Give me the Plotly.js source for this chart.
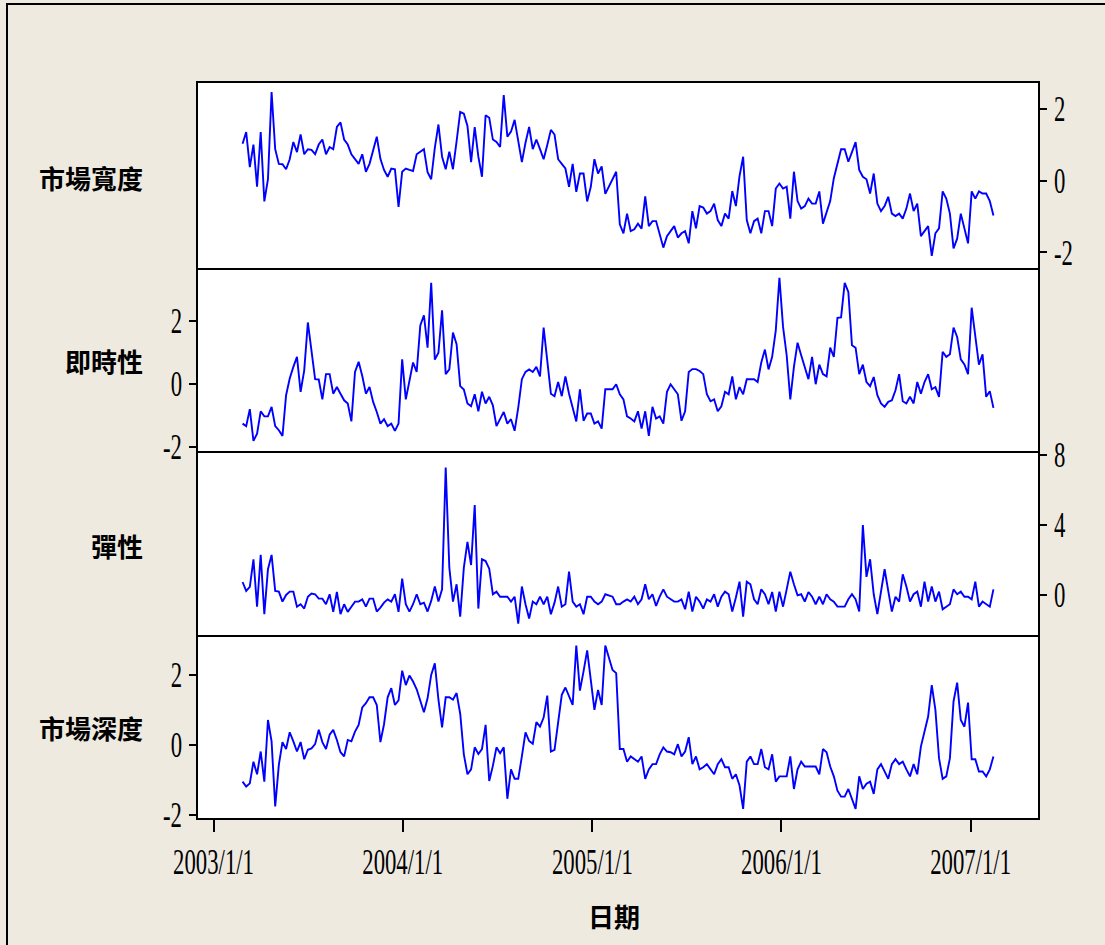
<!DOCTYPE html>
<html>
<head>
<meta charset="utf-8">
<script src="https://cdn.plot.ly/plotly-3.0.1.min.js"></script>
<style>
html,body{margin:0;padding:0;background:#EEEAE0;}
#chart{width:1105px;height:945px;}
</style>
</head>
<body>
<div id="chart"></div>
<script>
// ---------------- data ----------------
const startDate = [2003, 1, 26]; // 2003-02-26, weekly observations
const seriesNames = ['市場寬度', '即時性', '彈性', '市場深度'];
const xTitle = '日期';

const breadth = [
1.03,1.36,0.38,1.01,-0.17,1.36,-0.58,0.04,2.48,0.88,
0.47,0.46,0.32,0.60,1.08,0.80,1.29,0.74,0.88,0.86,
0.74,1.01,1.15,0.74,0.94,0.88,1.50,1.63,1.15,1.01,
0.74,0.61,0.47,0.74,0.25,0.47,0.83,1.23,0.61,0.30,
0.11,0.34,0.32,-0.73,0.25,0.34,0.30,0.27,0.74,0.81,
0.88,0.24,0.04,0.92,1.57,0.67,0.32,0.81,0.32,1.10,
1.92,1.87,1.53,0.52,1.50,0.67,0.11,1.83,1.76,1.15,
1.08,0.94,2.39,1.23,1.37,1.70,1.10,0.52,1.06,1.50,
0.88,1.15,0.88,0.60,1.00,1.42,1.29,0.60,0.47,0.34,
-0.17,0.47,-0.31,0.20,0.20,-0.58,-0.17,0.60,0.20,0.40,
-0.37,-0.17,0.04,0.25,
-1.22,-1.47,-0.92,-1.41,-1.36,-1.20,-1.34,-0.44,-1.27,-1.13,
-1.13,-1.50,-1.87,-1.55,-1.41,-1.27,-1.59,-1.47,-1.41,-1.75,
-0.85,-1.33,-0.71,-0.75,-0.92,-0.85,-0.64,-1.10,-1.27,-0.92,
-1.06,-0.29,-0.71,0.13,0.67,-1.10,-1.47,-1.13,-1.06,-1.47,
-0.85,-0.85,-1.27,-0.22,-0.08,-0.22,-0.17,-1.06,0.25,-0.57,
-0.78,-0.71,-0.50,-0.64,-0.64,-0.30,-1.20,-0.89,-0.57,0.07,
0.46,0.88,0.88,0.53,0.80,1.08,0.30,0.11,0.04,-0.36,
0.20,-0.64,-0.85,-0.71,-0.45,-0.92,-0.99,-0.92,-1.06,-0.78,
-0.36,-0.85,-0.64,-1.55,-1.41,-1.27,-2.10,-1.47,-1.33,-0.30,
-0.50,-0.92,-1.89,-1.62,-0.92,-1.34,-1.75,-0.30,-0.50,-0.30,
-0.36,-0.36,-0.57,-0.97
];

const immediacy = [
-1.26,-1.34,-0.80,-1.81,-1.58,-0.87,-1.03,-1.03,-0.73,-1.34,
-1.47,-1.65,-0.36,0.17,0.54,0.86,-0.25,0.43,1.95,1.07,
0.15,0.14,-0.49,0.31,0.31,-0.31,-0.10,-0.31,-0.52,-0.62,
-1.19,0.38,0.70,0.25,-0.31,-0.10,-0.57,-0.89,-1.26,-1.12,
-1.34,-1.26,-1.49,-1.26,0.78,-0.49,0.12,0.68,0.38,1.86,
2.18,1.15,3.21,0.77,0.99,2.34,0.31,0.46,1.63,1.26,
-0.07,-0.18,-0.62,-0.71,-0.33,-0.87,-0.25,-0.62,-0.41,-0.68,
-1.34,-1.12,-0.89,-1.26,-1.12,-1.49,-0.75,0.15,0.38,0.46,
0.38,0.54,0.24,1.79,0.75,-0.31,-0.39,0.06,-0.39,0.24,
-0.31,-0.80,-1.19,-0.17,-1.17,-0.94,-0.94,-1.26,-1.19,-1.42,
-0.17,-0.17,-0.17,-0.01,
-0.33,-0.49,-1.03,-1.10,-1.19,-0.87,-1.42,-0.87,-1.65,-0.73,
-1.10,-1.03,-1.26,-0.25,-0.01,-0.17,-0.33,-1.17,-0.87,0.38,
0.47,0.47,0.41,0.31,-0.33,-0.55,-0.49,-0.87,-0.71,-0.25,
-0.33,0.24,-0.49,-0.10,-0.33,0.15,0.15,0.15,0.06,0.68,
1.09,0.46,0.86,1.70,3.37,1.81,0.91,-0.49,0.54,1.31,
0.91,0.54,0.15,0.86,-0.01,0.61,0.31,0.24,1.15,0.86,
2.10,2.11,3.21,2.92,1.23,1.15,0.31,0.61,0.06,-0.07,
0.22,-0.36,-0.62,-0.73,-0.57,-0.52,-0.20,0.31,-0.55,-0.62,
-0.41,-0.62,0.06,-0.31,0.06,0.31,-0.17,-0.10,-0.41,1.02,
0.86,0.94,1.79,1.49,0.78,0.62,0.31,2.42,1.54,0.61,
0.94,-0.41,-0.23,-0.76
];

const elasticity = [
0.74,0.23,0.46,2.04,-0.67,2.29,-1.10,1.47,2.29,0.23,
0.19,-0.38,0.00,0.19,0.19,-0.67,-0.53,-0.78,-0.10,0.08,
0.04,-0.21,-0.21,-0.53,0.04,-0.97,0.17,-1.10,-0.53,-0.97,
-0.67,-0.38,-0.38,-0.25,-0.67,-0.21,-0.21,-0.95,-0.72,-0.44,
-0.25,-0.38,0.04,-0.97,0.93,-0.53,-0.95,-0.53,0.04,-0.53,
-0.44,-0.95,-0.34,0.48,-0.38,0.32,7.28,1.56,-0.38,0.61,
-1.24,1.56,3.03,1.71,5.14,-0.78,2.04,1.94,1.50,0.04,
0.19,-0.10,-0.10,-0.10,-0.38,-0.10,-1.64,0.48,-0.53,-1.35,
-0.38,-0.53,-0.10,-0.53,-0.10,-1.10,-0.44,0.48,-0.67,-0.53,
1.33,-0.38,-0.67,-0.53,-1.10,-0.10,-0.10,-0.38,-0.53,-0.38,
0.04,-0.02,-0.10,-0.53,
-0.53,-0.38,-0.25,-0.38,-0.10,-0.53,-0.25,0.61,-0.25,0.04,
-0.63,-0.10,0.32,-0.10,-0.25,-0.38,-0.38,-0.25,-0.82,0.19,
-0.95,-0.10,-0.38,-0.78,-0.25,-0.38,0.04,-0.67,-0.10,0.19,
0.04,-0.95,-0.15,0.76,-1.24,0.76,0.61,-0.25,-0.53,0.32,
0.04,-0.53,0.17,-0.95,0.19,-0.67,0.32,1.33,0.61,-0.02,
0.04,-0.38,0.17,-0.10,-0.53,-0.10,-0.53,0.04,-0.25,-0.38,
-0.67,-0.67,-0.67,-0.25,0.04,-0.25,-0.95,4.00,1.03,2.04,
0.04,-1.10,0.32,1.47,0.23,-0.95,-0.10,-0.38,1.18,0.48,
-0.38,0.04,0.19,-0.67,0.76,-0.38,0.48,-0.38,0.19,-0.82,
-0.67,-0.53,0.32,0.04,0.19,-0.10,-0.10,-0.25,0.76,-0.67,
-0.38,-0.53,-0.67,0.32
];

const depth = [
-1.05,-1.19,-1.10,-0.48,-0.84,-0.19,-1.05,0.71,0.10,-1.76,
-0.57,0.08,-0.12,0.36,0.10,-0.19,0.08,-0.41,-0.14,-0.10,
0.02,0.43,0.08,-0.12,0.29,0.43,0.14,-0.21,-0.33,0.14,
0.10,0.38,0.57,1.07,1.19,1.36,1.36,1.14,0.08,0.59,
1.36,1.62,1.14,1.27,2.12,1.71,1.98,1.81,1.59,1.29,
0.93,1.33,2.00,2.33,1.29,0.50,1.36,1.36,1.29,1.48,
0.89,-0.27,-0.84,-0.70,-0.07,-0.26,-0.12,0.57,-1.03,-0.60,
-0.07,-0.24,-0.07,-1.54,-0.70,-0.97,-0.97,-0.33,0.36,0.11,
0.03,0.65,0.52,0.78,1.41,-0.19,-0.14,0.64,1.43,1.64,
1.36,1.14,2.84,1.55,2.10,2.70,1.86,1.00,1.57,1.14,
2.84,2.48,2.14,2.05,
-0.12,-0.12,-0.48,-0.33,-0.40,-0.48,-0.33,-0.97,-0.70,-0.55,
-0.55,-0.27,-0.07,-0.19,-0.21,-0.27,0.02,-0.33,-0.19,0.22,
-0.55,-0.33,-0.70,-0.64,-0.55,-0.70,-0.84,-0.55,-0.41,-0.64,
-0.64,-0.97,-0.84,-1.16,-1.83,-0.48,-0.33,-0.55,-0.55,-0.12,
-0.64,-0.70,-0.27,-1.05,-0.90,-0.90,-0.90,-0.33,-1.26,-0.70,
-0.48,-0.62,-0.62,-0.62,-0.62,-0.84,-0.12,-0.21,-0.62,-0.90,
-1.31,-1.48,-1.48,-1.26,-1.54,-1.83,-0.90,-1.26,-1.11,-1.05,
-1.40,-0.70,-0.55,-0.76,-0.97,-0.55,-0.41,-0.55,-0.48,-0.70,
-0.90,-0.55,-0.84,-0.05,0.38,0.81,1.71,1.00,-0.38,-0.97,
-0.90,-0.38,1.24,1.78,0.71,0.52,1.21,-0.41,-0.41,-0.76,
-0.76,-0.90,-0.70,-0.33
];

const xTickVals = ['2003-01-01','2004-01-01','2005-01-01','2006-01-01','2007-01-01'];
const xTickText = ['2003/1/1','2004/1/1','2005/1/1','2006/1/1','2007/1/1'];
const yTickVals = [[-2,0,2],[-2,0,2],[0,4,8],[-2,0,2]];
const yTickText = [['-2','0','2'],['-2','0','2'],['0','4','8'],['-2','0','2']];

// ---------------- build ----------------
function weeklyDates(n){
  const t0 = Date.UTC(startDate[0], startDate[1], startDate[2]);
  const out = [];
  for(let i=0;i<n;i++){ out.push(new Date(t0 + i*7*86400000).toISOString().slice(0,10)); }
  return out;
}
const allSeries = [breadth, immediacy, elasticity, depth];

const W=1105, H=945, ML=198, MR=67, MT=83, MB=127;
const PW=W-ML-MR, PH=H-MT-MB;
const panelPx=[83,268,451,635,818];
const py=(p)=>(818-p)/PH;
const px=(p)=>(p-ML)/PW;

const yRanges=[[-2.44,2.73],[-2.13,3.68],[-2.29,8.23],[-2.09,3.14]];
const ySides=['right','left','right','left'];

const traces = allSeries.map((s,k)=>({
  type:'scatter', mode:'lines',
  x: weeklyDates(s.length), y: s,
  xaxis: 'x'+(k+1), yaxis: 'y'+(k+1),
  line:{color:'#0000FF', width:1.9},
  name: seriesNames[k], hoverinfo:'skip'
}));

const tickFont={family:'Liberation Serif, Times New Roman, serif', size:35, color:'#000'};
const layout = {
  width:W, height:H,
  margin:{l:ML, r:MR, t:MT, b:MB, pad:0},
  paper_bgcolor:'#EEEAE0', plot_bgcolor:'#FFFFFF',
  showlegend:false,
  font:{family:'Liberation Serif, serif', color:'#000'},
  annotations:[], shapes:[]
};
for(let k=0;k<4;k++){
  const xa={
    type:'date', range:['2002-12-02','2007-05-11'],
    anchor:'y'+(k+1),
    showline:true, mirror:(k===0), linecolor:'#000', linewidth:2,
    showgrid:false, zeroline:false,
    tickvals:xTickVals, ticktext:xTickText
  };
  if(k<3){ xa.matches='x4'; xa.showticklabels=false; xa.ticks=''; }
  else { xa.ticks='outside'; xa.ticklen=12; xa.tickwidth=2; xa.tickcolor='#000'; xa.tickfont=tickFont; }
  layout['xaxis'+(k+1)]=xa;
  layout['yaxis'+(k+1)]={
    domain:[py(panelPx[k+1]), py(panelPx[k])],
    range:yRanges[k], anchor:'x'+(k+1), side:ySides[k],
    tickvals:yTickVals[k], ticktext:yTickText[k],
    ticks:'outside', ticklen:7, tickwidth:2, tickcolor:'#000',
    tickfont:tickFont,
    showline:true, mirror:true, linecolor:'#000', linewidth:2,
    showgrid:false, zeroline:false
  };
  layout.annotations.push({
    xref:'paper', yref:'paper', x:px(145), xanchor:'right',
    y:py([177,360,545,727][k]), yanchor:'middle',
    text:seriesNames[k], showarrow:false,
    font:{family:'Noto Sans CJK TC, Noto Sans CJK SC, sans-serif', size:26, color:'#000', weight:700}
  });
}
layout.annotations.push({
  xref:'paper', yref:'paper', x:px(614), xanchor:'center', y:py(915), yanchor:'middle',
  text:xTitle, showarrow:false,
  font:{family:'Noto Sans CJK TC, Noto Sans CJK SC, sans-serif', size:26, color:'#000', weight:700}
});
layout.shapes.push({
  type:'rect', xref:'paper', yref:'paper',
  x0:px(7), x1:px(1112), y0:py(952), y1:py(4),
  line:{color:'#000', width:2}, fillcolor:'rgba(0,0,0,0)', layer:'below'
});

function squeezeTicks(){
  const s=0.65;
  document.querySelectorAll('#chart g').forEach(g=>{
    const c=g.getAttribute('class')||'';
    if(/^(x|y)\d*tick$/.test(c)){
      g.querySelectorAll('text').forEach(t=>{
        const b=t.getBBox();
        const a=t.getAttribute('text-anchor')||'start';
        const cx = a==='end' ? b.x+b.width : (a==='middle' ? b.x+b.width/2 : b.x);
        const tr=t.getAttribute('transform')||'';
        t.setAttribute('transform', tr+' translate('+cx+',0) scale('+s+',1) translate('+(-cx)+',0)');
      });
    }
  });
}

Plotly.newPlot('chart', traces, layout, {staticPlot:true, displayModeBar:false}).then(squeezeTicks);
</script>
</body>
</html>
